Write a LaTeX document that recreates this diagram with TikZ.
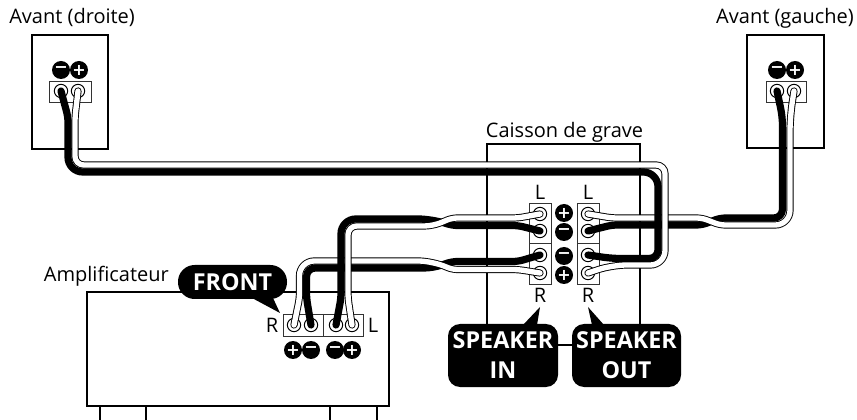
\documentclass[tikz,border=0pt]{standalone}
\usepackage{fontspec}
\setmainfont{Open Sans}
\newfontfamily\signfont{DejaVu Sans}
\usetikzlibrary{calc}
\tikzset{
	boxline/.style={line width=1.5pt, color=black},
	termblock/.style={line width=0.6pt, color=black!80},
	screw/.style={circle, draw=black, line width=0.75pt, fill=white, minimum size=10pt, inner sep=0pt},
	sign/.style={circle, fill=black, text=white, minimum size=13.5pt, inner sep=0pt, font=\signfont\bfseries\fontsize{12}{12}\selectfont},
	lab/.style={inner sep=0pt, font=\fontsize{15}{18}\selectfont},
	callout/.style={fill=black, text=white, rounded corners=9pt, inner sep=0pt, align=center, font=\bfseries\fontsize{17.5}{22.5}\selectfont},
	wireblack/.style={line width=5.4pt, line cap=round, line join=round, color=black},
	wirewhite/.style={line width=0.7pt, double=white, double distance=4pt, line cap=round, line join=round, color=black},
	bigbend/.style={rounded corners=11pt},
	smallbend/.style={rounded corners=6.5pt},
	slant/.style={rounded corners=4pt}
}

\begin{document}
\begin{tikzpicture}[x=0.75pt, y=-0.75pt]
		%%%%% START %%%%%
		\useasboundingbox (0, 0) rectangle (857, 420);
		
		% speakers
		\draw[boxline] (32, 35) rectangle (108, 149);
		\draw[termblock] (49, 81) rectangle (91, 102);
		\node[sign] (lminus) at (61, 70) {−};
		\node[sign] (lplus) at (79, 70) {+};
		\node[screw] (lsa) at (61, 91) {};
		\node[screw] (lsb) at (78, 91) {};
		
		\draw[boxline] (747, 35) rectangle (824, 148);
		\draw[termblock] (766, 81) rectangle (806, 102);
		\node[sign] (rminus) at (777, 70) {−};
		\node[sign] (rplus) at (795, 70) {+};
		\node[screw] (rsa) at (777, 91) {};
		\node[screw] (rsb) at (794, 91) {};
		
		% subwoofer
		\draw[boxline] (487, 324) -- (487, 144) -- (640, 144) -- (640, 324);
		\draw[termblock] (529, 203) rectangle (551, 284);
		\draw[termblock] (529, 243) -- (551, 243);
		\draw[termblock] (577, 203) rectangle (599, 284);
		\draw[termblock] (577, 243) -- (599, 243);
		\node[sign] (splus) at (564, 213) {+};
		\node[sign] (sminus) at (564, 232) {−};
		\node[sign] (sminusb) at (564, 256) {−};
		\node[sign] (splusb) at (564, 275) {+};
		\node[screw] (ina) at (540, 214) {};
		\node[screw] (inb) at (540, 231) {};
		\node[screw] (inc) at (540, 255) {};
		\node[screw] (ind) at (540, 273) {};
		\node[screw] (outa) at (588, 214) {};
		\node[screw] (outb) at (588, 231) {};
		\node[screw] (outc) at (588, 255) {};
		\node[screw] (outd) at (588, 273) {};
		
		% amplifier
		\draw[boxline] (87, 292) rectangle (389, 406);
		\draw[boxline] (100, 421) -- (100, 406);
		\draw[boxline] (146, 421) -- (146, 406);
		\draw[boxline] (330, 421) -- (330, 406);
		\draw[boxline] (377, 421) -- (377, 406);
		\draw[termblock] (283, 314) rectangle (363, 336);
		\draw[termblock] (323, 314) -- (323, 336);
		\node[sign] (aplus) at (293, 350) {+};
		\node[sign] (aminus) at (311, 350) {−};
		\node[sign] (aminusb) at (335, 350) {−};
		\node[sign] (aplusb) at (352, 350) {+};
		\node[screw] (ampa) at (294, 325) {};
		\node[screw] (ampb) at (311, 325) {};
		\node[screw] (ampc) at (336, 325) {};
		\node[screw] (ampd) at (352, 325) {};
		
		% wires, amplifier to subwoofer
		\draw[wireblack, slant] (ampb.center) -- (306.5, 298) [smallbend] -- (306.5, 268) -- (433, 268) [slant] -- (452, 261.5) -- (518, 261.5) -- (inc.center);
		\draw[wirewhite, slant] (ampa.center) -- (299.5, 298) [bigbend] -- (299.5, 261) -- (433, 261) [slant] -- (452, 269.5) -- (518, 269.5) -- (ind.center);
		\draw[wireblack, slant] (ampc.center) -- (341, 298) [bigbend] -- (341, 219) -- (433, 219) [slant] -- (452, 225.5) -- (518, 225.5) -- (inb.center);
		\draw[wirewhite, slant] (ampd.center) -- (348, 298) [smallbend] -- (348, 226) -- (433, 226) [slant] -- (452, 218) -- (518, 218) -- (ina.center);
		
		% wires, subwoofer to right speaker
		\draw[wireblack, slant] (outb.center) -- (612, 225) -- (702, 225) -- (720, 218) [smallbend] -- (782.5, 218) -- (782.5, 117) [slant] -- (rsa.center);
		\draw[wirewhite, slant] (outa.center) -- (612, 218) -- (702, 218) -- (720, 225) [bigbend] -- (790, 225) -- (790, 117) [slant] -- (rsb.center);
		
		% wires, subwoofer to left speaker
		\draw[wireblack, slant] (lsa.center) -- (68, 117) [bigbend] -- (68, 172) -- (658, 172) [smallbend] -- (658, 258.5) -- (612, 258.5) [slant] -- (outc.center);
		\draw[wirewhite, slant] (lsb.center) -- (75, 117) [smallbend] -- (75, 165) -- (665, 165) [bigbend] -- (665, 265) -- (612, 265) [slant] -- (outd.center);
		
		% texts
		\node[lab, anchor=base west] (avd) at (9, 24) {Avant (droite)};
		\node[lab, anchor=base east] (avg) at (854, 24) {Avant (gauche)};
		\node[lab, anchor=base] (cdg) at (564.5, 138) {Caisson de grave};
		\node[lab, anchor=base east] (amptext) at (169, 282) {Amplificateur};
		\node[lab] (inl) at (540, 192) {L};
		\node[lab] (outl) at (588, 192) {L};
		\node[lab] (inr) at (540, 295) {R};
		\node[lab] (outr) at (588, 295) {R};
		\node[lab] (ampr) at (272, 325) {R};
		\node[lab] (ampleft) at (373, 325) {L};
		
		% callouts
		\fill (252, 298) -- (280, 313) -- (273, 298) -- cycle;
		\node[callout, rounded corners=12.5pt, minimum width=81.75pt, minimum height=25.5pt] (front) at (232.5, 282) {FRONT};
		\fill (523, 325) -- (540, 307) -- (537, 325) -- cycle;
		\fill (592, 325) -- (588, 307) -- (604, 325) -- cycle;
		\node[callout, minimum width=82.5pt, minimum height=47.25pt] (spkin) at (503, 355.5) {SPEAKER\\IN};
		\node[callout, minimum width=81.75pt, minimum height=47.25pt] (spkout) at (626.5, 355.5) {SPEAKER\\OUT};
		\draw[line width=2.2pt] ($(spkin.east)+(0, -10.5)$) -- ($(spkout.west)+(0, -10.5)$);
		
		%%%%% END %%%%%
	\end{tikzpicture}
\end{document}
